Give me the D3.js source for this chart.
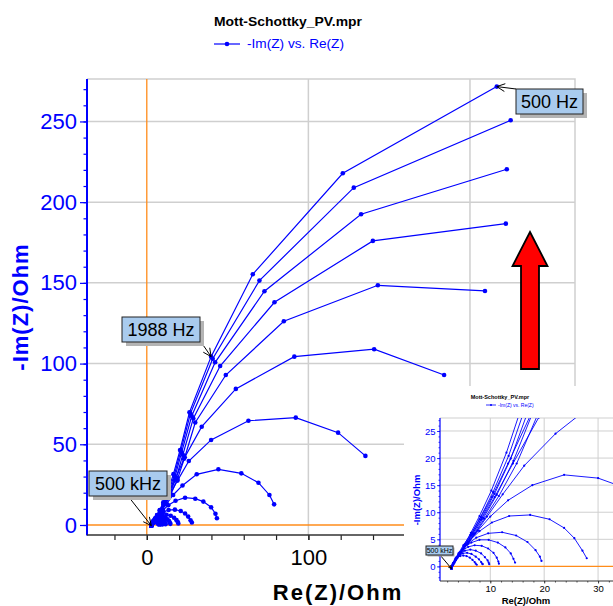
<!DOCTYPE html>
<html>
<head>
<meta charset="utf-8">
<script src="https://cdn.jsdelivr.net/npm/d3@7"></script>
<style>
  body { margin: 0; background: #fff; }
  svg { display: block; font-family: "Liberation Sans", Arial, sans-serif; }
</style>
</head>
<body>
<div id="chart"></div>
<script>
// set the dimensions of the page
const width = 613
const height = 606

// Nyquist curves, [Re(Z), -Im(Z)] in Ohm, from 500 kHz down to 500 Hz
const curve01 = [[2.8,-0.4],[3.1,0.4],[3.6,1.3],[4.3,2.5],[5.2,4.0],[6.4,6.2],[8.0,9.3],[10.2,14.0],[13.0,21.0],[16.5,31.5],[20.6,46.5],[26.4,69.8],[39.8,104.3],[65.6,155.3],[121.3,217.9],[216.6,271.6]]
const curve02 = [[2.8,-0.4],[3.1,0.4],[3.6,1.3],[4.4,2.5],[5.3,4.0],[6.6,6.1],[8.2,9.1],[10.5,13.7],[13.4,20.4],[17.0,30.8],[21.0,45.8],[27.0,69.0],[40.8,103.0],[69.7,151.4],[128.1,209.0],[225.2,250.7]]
const curve03 = [[2.8,-0.4],[3.1,0.4],[3.6,1.3],[4.4,2.5],[5.4,4.0],[6.7,6.0],[8.4,9.0],[10.8,13.4],[13.8,19.9],[17.5,30.0],[21.5,44.8],[27.8,67.5],[42.3,100.8],[72.8,144.8],[132.6,192.5],[222.8,220.4]]
const curve04 = [[2.8,-0.4],[3.1,0.4],[3.7,1.3],[4.5,2.5],[5.5,4.0],[6.9,6.0],[8.7,8.9],[11.2,13.2],[14.3,19.5],[18.2,29.2],[22.3,43.5],[28.8,66.0],[45.4,98.5],[79.0,138.0],[139.9,176.0],[222.2,186.7]]
const curve05 = [[2.8,-0.4],[3.1,0.4],[3.7,1.3],[4.5,2.5],[5.6,4.0],[7.0,5.9],[8.9,8.8],[11.6,13.0],[14.9,19.0],[19.0,28.5],[23.5,42.0],[30.0,63.5],[48.9,92.9],[84.8,126.2],[143.0,148.5],[209.3,145.0]]
const curve06 = [[2.8,-0.4],[3.1,0.4],[3.5,1.3],[4.1,2.4],[5.0,3.9],[6.3,5.8],[8.0,8.7],[10.3,12.8],[13.3,19.0],[17.5,28.0],[23.0,41.0],[34.0,60.9],[55.1,84.3],[91.3,104.3],[140.7,108.9],[184.0,92.9]]
const curve07 = [[2.8,-0.4],[3.1,0.4],[3.5,1.2],[4.2,2.3],[5.1,3.7],[6.5,5.7],[8.3,8.6],[10.8,12.8],[14.2,19.0],[19.0,27.5],[26.0,39.6],[39.8,52.7],[62.9,64.6],[92.2,66.5],[118.4,57.2],[135.3,42.8]]
const curve08 = [[2.8,-0.4],[3.1,0.3],[3.6,1.1],[4.4,2.3],[5.6,3.9],[7.2,6.1],[9.4,9.2],[12.3,13.3],[16.3,18.6],[22.1,24.5],[30.9,31.4],[44.3,34.5],[58.5,32.0],[69.1,26.2],[75.9,18.6],[78.8,12.8]]
const curve09 = [[2.8,-0.4],[3.0,0.1],[3.4,0.7],[3.9,1.6],[4.8,2.9],[6.0,4.5],[7.7,6.6],[10.0,9.2],[13.3,12.2],[17.8,15.0],[23.7,16.9],[30.0,16.3],[35.0,14.5],[39.8,11.0],[42.5,7.0],[43.4,4.2]]
const curve10 = [[2.8,-0.4],[2.9,0.0],[3.2,0.5],[3.6,1.2],[4.2,2.2],[5.1,3.4],[6.3,4.9],[8.0,6.5],[10.3,8.1],[13.5,9.3],[17.4,9.5],[21.0,8.7],[23.7,7.1],[25.6,5.2],[27.1,2.9],[27.9,1.5]]
const curve11 = [[2.8,-0.4],[2.9,0.1],[3.1,0.6],[3.5,1.2],[4.0,2.0],[4.8,3.0],[5.9,4.2],[7.4,5.3],[9.6,6.1],[12.2,6.3],[14.8,5.7],[16.9,4.5],[18.4,3.0],[19.2,1.8],[19.5,1.0]]
const curve12 = [[2.8,-0.4],[2.9,0.1],[3.1,0.6],[3.6,1.6],[4.3,2.6],[5.2,3.6],[6.5,4.4],[8.0,4.9],[9.7,4.9],[11.4,4.4],[12.8,3.5],[13.8,2.4],[14.3,1.4],[14.6,0.7]]
const curve13 = [[2.8,-0.4],[2.9,0.0],[3.1,0.5],[3.5,1.3],[4.1,2.2],[4.9,3.0],[5.9,3.6],[7.1,3.9],[8.4,3.8],[9.6,3.3],[10.6,2.5],[11.2,1.6],[11.5,0.9],[11.6,0.5]]
const curve14 = [[2.8,-0.4],[3.0,0.4],[3.4,1.1],[3.9,1.8],[4.5,2.4],[5.3,2.9],[6.3,3.1],[7.3,2.9],[8.3,2.4],[9.0,1.7],[9.5,1.1],[9.7,0.7],[9.8,0.4]]
const curve15 = [[2.8,-0.4],[3.0,0.3],[3.3,0.9],[3.7,1.5],[4.2,2.0],[4.9,2.4],[5.7,2.5],[6.5,2.3],[7.3,1.8],[7.9,1.3],[8.3,0.8],[8.5,0.5],[8.6,0.4]]
const curve16 = [[2.8,-0.4],[3.0,0.2],[3.2,0.7],[3.5,1.2],[3.9,1.6],[4.4,1.9],[5.0,2.0],[5.6,1.9],[6.2,1.6],[6.7,1.2],[7.1,0.8],[7.3,0.5],[7.5,0.3]]

const curves = [curve01, curve02, curve03, curve04, curve05, curve06, curve07, curve08,
                curve09, curve10, curve11, curve12, curve13, curve14, curve15, curve16]

// tick labels
const xTicks = [0, 100]
const yTicks = [0, 50, 100, 150, 200, 250]
const insetXTicks = [10, 20, 30]
const insetYTicks = [0, 5, 10, 15, 20, 25]

// frequency annotations: which curve, which point, text
const callouts = [
  {curve: 0, point: 0,  text: "500 kHz"},
  {curve: 0, point: 12, text: "1988 Hz"},
  {curve: 0, point: 15, text: "500 Hz"}
]

const BLUE = "#0000ff"
const ORANGE = "#ff8c1a"
const GRID = "#cfcfcf"
const BOXFILL = "#a9cbee"

const svg = d3.select("#chart")
  .append("svg")
  .attr("width", width)
  .attr("height", height)

svg.append("rect").attr("width", width).attr("height", height).attr("fill", "#fff")

// ---------- main plot ----------
const plot = {left: 87, right: 575, top: 79, bottom: 535}

const x = d3.scaleLinear().domain([-37, 265]).range([plot.left, plot.right])
const y = d3.scaleLinear().domain([-6.2, 276.3]).range([plot.bottom, plot.top])

// title and legend
svg.append("text")
  .attr("x", 288).attr("y", 26)
  .attr("text-anchor", "middle")
  .attr("font-size", 13).attr("font-weight", "bold")
  .attr("textLength", 148).attr("lengthAdjust", "spacingAndGlyphs")
  .text("Mott-Schottky_PV.mpr")

svg.append("line")
  .attr("x1", 214).attr("x2", 240).attr("y1", 44).attr("y2", 44)
  .attr("stroke", BLUE).attr("stroke-width", 1.2)
svg.append("circle").attr("cx", 227).attr("cy", 44).attr("r", 2.3).attr("fill", BLUE)
svg.append("text")
  .attr("x", 247).attr("y", 48)
  .attr("font-size", 12).attr("fill", BLUE)
  .attr("textLength", 97).attr("lengthAdjust", "spacingAndGlyphs")
  .text("-Im(Z) vs. Re(Z)")

// grid
const grid = svg.append("g")
grid.selectAll(".vg")
  .data([100, 200])
  .join("line")
    .attr("x1", d => x(d)).attr("x2", d => x(d))
    .attr("y1", plot.top).attr("y2", plot.bottom)
    .attr("stroke", GRID).attr("stroke-width", 1.5)
grid.selectAll(".hg")
  .data(yTicks.filter(d => d > 0))
  .join("line")
    .attr("x1", plot.left).attr("x2", plot.right)
    .attr("y1", d => y(d)).attr("y2", d => y(d))
    .attr("stroke", GRID).attr("stroke-width", 1.5)
// top and right frame
grid.append("path")
  .attr("d", `M${plot.left},${plot.top}H${plot.right}V${plot.bottom}`)
  .attr("fill", "none").attr("stroke", GRID).attr("stroke-width", 1.5)

// orange zero lines
svg.append("line")
  .attr("x1", x(0)).attr("x2", x(0)).attr("y1", plot.top).attr("y2", plot.bottom)
  .attr("stroke", ORANGE).attr("stroke-width", 1.3)
svg.append("line")
  .attr("x1", plot.left).attr("x2", plot.right).attr("y1", y(0)).attr("y2", y(0))
  .attr("stroke", ORANGE).attr("stroke-width", 1.3)

// data
const line = d3.line().x(d => x(d[0])).y(d => y(d[1]))
const data = svg.append("g")
data.selectAll("path")
  .data(curves)
  .join("path")
    .attr("d", line)
    .attr("fill", "none")
    .attr("stroke", BLUE)
    .attr("stroke-width", 1.2)
data.selectAll("g")
  .data(curves)
  .join("g")
  .selectAll("circle")
  .data(d => d)
  .join("circle")
    .attr("cx", d => x(d[0]))
    .attr("cy", d => y(d[1]))
    .attr("r", 2.3)
    .attr("fill", BLUE)

// y axis (blue)
const yAxis = svg.append("g").attr("transform", `translate(${plot.left},0)`)
yAxis.call(d3.axisLeft(y).tickValues(d3.range(0, 280, 10)).tickSize(3.5).tickFormat(""))
yAxis.append("g").call(d3.axisLeft(y).tickValues(yTicks).tickSize(7).tickPadding(3))
yAxis.selectAll(".domain").remove()
yAxis.selectAll("line").attr("stroke", BLUE).attr("stroke-width", 1.2)
yAxis.selectAll("text")
  .attr("fill", BLUE).attr("font-size", 22)
  .attr("font-family", "'Liberation Sans', Arial, sans-serif")
yAxis.append("line")
  .attr("y1", plot.top).attr("y2", plot.bottom + 0.5)
  .attr("stroke", BLUE).attr("stroke-width", 2)

// x axis (black)
const xAxis = svg.append("g").attr("transform", `translate(0,${plot.bottom})`)
xAxis.call(d3.axisBottom(x).tickValues(d3.range(-20, 265, 20)).tickSize(5).tickFormat(""))
xAxis.append("g").call(d3.axisBottom(x).tickValues(xTicks).tickSize(5).tickPadding(9))
xAxis.selectAll(".domain").remove()
xAxis.selectAll("line").attr("stroke", "#222").attr("stroke-width", 1.2)
xAxis.selectAll("text")
  .attr("fill", "#000").attr("font-size", 22)
  .attr("font-family", "'Liberation Sans', Arial, sans-serif")
xAxis.append("line")
  .attr("x1", plot.left).attr("x2", plot.right)
  .attr("stroke", "#333").attr("stroke-width", 1.5)

// axis titles
svg.append("text")
  .attr("x", 338).attr("y", 600)
  .attr("text-anchor", "middle")
  .attr("font-size", 22).attr("font-weight", "bold")
  .attr("letter-spacing", 2)
  .text("Re(Z)/Ohm")
svg.append("text")
  .attr("transform", "translate(28,307) rotate(-90)")
  .attr("text-anchor", "middle")
  .attr("font-size", 22).attr("font-weight", "bold")
  .attr("letter-spacing", 1)
  .attr("fill", BLUE)
  .text("-Im(Z)/Ohm")

// callout boxes with arrows
function callout(g, box, target, text, fs, shadow) {
  g.append("line")
    .attr("x1", box.ax).attr("y1", box.ay)
    .attr("x2", target[0]).attr("y2", target[1])
    .attr("stroke", "#000").attr("stroke-width", 1)
  const ang = Math.atan2(box.ay - target[1], box.ax - target[0])
  const len = fs * 0.5
  const p1 = [target[0] + len * Math.cos(ang + 0.45), target[1] + len * Math.sin(ang + 0.45)]
  const p2 = [target[0] + len * Math.cos(ang - 0.45), target[1] + len * Math.sin(ang - 0.45)]
  g.append("path")
    .attr("d", `M${p1}L${target}L${p2}`)
    .attr("fill", "none").attr("stroke", "#000").attr("stroke-width", 1)
  g.append("rect")
    .attr("x", box.x + shadow).attr("y", box.y + shadow)
    .attr("width", box.w).attr("height", box.h)
    .attr("fill", "#b4b4b4")
  g.append("rect")
    .attr("x", box.x).attr("y", box.y)
    .attr("width", box.w).attr("height", box.h)
    .attr("fill", BOXFILL).attr("stroke", "#222").attr("stroke-width", 1)
  g.append("text")
    .attr("x", box.x + box.w / 2).attr("y", box.y + box.h / 2 + fs * 0.36)
    .attr("text-anchor", "middle")
    .attr("font-size", fs)
    .text(text)
}

const mainBoxes = [
  {x: 89, y: 471, w: 78, h: 25, ax: 128, ay: 496},
  {x: 122, y: 317, w: 78, h: 25, ax: 201, ay: 342},
  {x: 516, y: 89, w: 67, h: 25, ax: 516, ay: 89}
]
const notes = svg.append("g")
callouts.forEach((c, i) => {
  const p = curves[c.curve][c.point]
  callout(notes, mainBoxes[i], [x(p[0]), y(p[1])], c.text, 18, 4)
})

// red arrow
const arrow = {tip: [530, 232], headY: 266, headHalf: 17.5, shaftHalf: 9, bottom: 369}
svg.append("path")
  .attr("d", `M${arrow.tip[0]},${arrow.tip[1]}
    L${arrow.tip[0] + arrow.headHalf},${arrow.headY}
    L${arrow.tip[0] + arrow.shaftHalf},${arrow.headY}
    L${arrow.tip[0] + arrow.shaftHalf},${arrow.bottom}
    L${arrow.tip[0] - arrow.shaftHalf},${arrow.bottom}
    L${arrow.tip[0] - arrow.shaftHalf},${arrow.headY}
    L${arrow.tip[0] - arrow.headHalf},${arrow.headY}Z`)
  .attr("fill", "#ff0000").attr("stroke", "#000").attr("stroke-width", 1.8)
  .attr("stroke-linejoin", "miter")

// ---------- inset (zoom near the origin) ----------
const inset = svg.append("g")
inset.append("rect")
  .attr("x", 404).attr("y", 386).attr("width", 209).attr("height", 220)
  .attr("fill", "#fff")

const ip = {left: 440, right: 613, top: 418, bottom: 581}
const ix = d3.scaleLinear().domain([0.67, 32.77]).range([ip.left, ip.right])
const iy = d3.scaleLinear().domain([-2.7, 27.4]).range([ip.bottom, ip.top])

inset.append("text")
  .attr("x", 500).attr("y", 399)
  .attr("text-anchor", "middle")
  .attr("font-size", 5.5).attr("font-weight", "bold")
  .text("Mott-Schottky_PV.mpr")
inset.append("line")
  .attr("x1", 486).attr("x2", 496).attr("y1", 405).attr("y2", 405)
  .attr("stroke", BLUE).attr("stroke-width", 0.8)
inset.append("circle").attr("cx", 491).attr("cy", 405).attr("r", 1).attr("fill", BLUE)
inset.append("text")
  .attr("x", 498).attr("y", 407)
  .attr("font-size", 5).attr("fill", BLUE)
  .text("-Im(Z) vs. Re(Z)")

inset.selectAll(".ivg")
  .data(insetXTicks)
  .join("line")
    .attr("x1", d => ix(d)).attr("x2", d => ix(d))
    .attr("y1", ip.top).attr("y2", ip.bottom)
    .attr("stroke", GRID).attr("stroke-width", 1)
inset.selectAll(".ihg")
  .data(insetYTicks.filter(d => d > 0))
  .join("line")
    .attr("x1", ip.left).attr("x2", ip.right)
    .attr("y1", d => iy(d)).attr("y2", d => iy(d))
    .attr("stroke", GRID).attr("stroke-width", 1)
inset.append("line")
  .attr("x1", ip.left).attr("x2", ip.right).attr("y1", ip.top).attr("y2", ip.top)
  .attr("stroke", GRID).attr("stroke-width", 1)
inset.append("line")
  .attr("x1", ip.left).attr("x2", ip.right).attr("y1", iy(0)).attr("y2", iy(0))
  .attr("stroke", ORANGE).attr("stroke-width", 1.2)

svg.append("clipPath").attr("id", "inset-clip")
  .append("rect")
  .attr("x", ip.left).attr("y", ip.top)
  .attr("width", ip.right - ip.left).attr("height", ip.bottom - ip.top)

const iline = d3.line().x(d => ix(d[0])).y(d => iy(d[1]))
const idata = inset.append("g").attr("clip-path", "url(#inset-clip)")
idata.selectAll("path")
  .data(curves)
  .join("path")
    .attr("d", iline)
    .attr("fill", "none")
    .attr("stroke", BLUE)
    .attr("stroke-width", 0.9)
idata.selectAll("g")
  .data(curves)
  .join("g")
  .selectAll("circle")
  .data(d => d)
  .join("circle")
    .attr("cx", d => ix(d[0]))
    .attr("cy", d => iy(d[1]))
    .attr("r", 1.1)
    .attr("fill", BLUE)

const iyAxis = inset.append("g").attr("transform", `translate(${ip.left},0)`)
iyAxis.call(d3.axisLeft(iy).tickValues(d3.range(-2, 28, 1)).tickSize(1.5).tickFormat(""))
iyAxis.append("g").call(d3.axisLeft(iy).tickValues(insetYTicks).tickSize(3).tickPadding(1.5))
iyAxis.selectAll(".domain").remove()
iyAxis.selectAll("line").attr("stroke", BLUE).attr("stroke-width", 0.8)
iyAxis.selectAll("text")
  .attr("fill", BLUE).attr("font-size", 9.5)
  .attr("font-family", "'Liberation Sans', Arial, sans-serif")
iyAxis.append("line")
  .attr("y1", ip.top).attr("y2", ip.bottom)
  .attr("stroke", BLUE).attr("stroke-width", 1.2)

const ixAxis = inset.append("g").attr("transform", `translate(0,${ip.bottom})`)
ixAxis.call(d3.axisBottom(ix).tickValues(d3.range(2, 33, 2)).tickSize(1.5).tickFormat(""))
ixAxis.append("g").call(d3.axisBottom(ix).tickValues(insetXTicks).tickSize(2.5).tickPadding(2))
ixAxis.selectAll(".domain").remove()
ixAxis.selectAll("line").attr("stroke", "#222").attr("stroke-width", 0.8)
ixAxis.selectAll("text")
  .attr("fill", "#000").attr("font-size", 9.5)
  .attr("font-family", "'Liberation Sans', Arial, sans-serif")
ixAxis.append("line")
  .attr("x1", ip.left).attr("x2", ip.right)
  .attr("stroke", "#333").attr("stroke-width", 1)

inset.append("text")
  .attr("x", 526).attr("y", 604)
  .attr("text-anchor", "middle")
  .attr("font-size", 9.5).attr("font-weight", "bold")
  .text("Re(Z)/Ohm")
inset.append("text")
  .attr("transform", "translate(420,500) rotate(-90)")
  .attr("text-anchor", "middle")
  .attr("font-size", 9.5).attr("font-weight", "bold")
  .attr("fill", BLUE)
  .text("-Im(Z)/Ohm")

const ic = callouts[0]
const ipt = curves[ic.curve][ic.point]
callout(inset, {x: 426, y: 546, w: 27, h: 9, ax: 440, ay: 555}, [ix(ipt[0]), iy(ipt[1])], ic.text, 7, 1.5)
</script>
</body>
</html>
